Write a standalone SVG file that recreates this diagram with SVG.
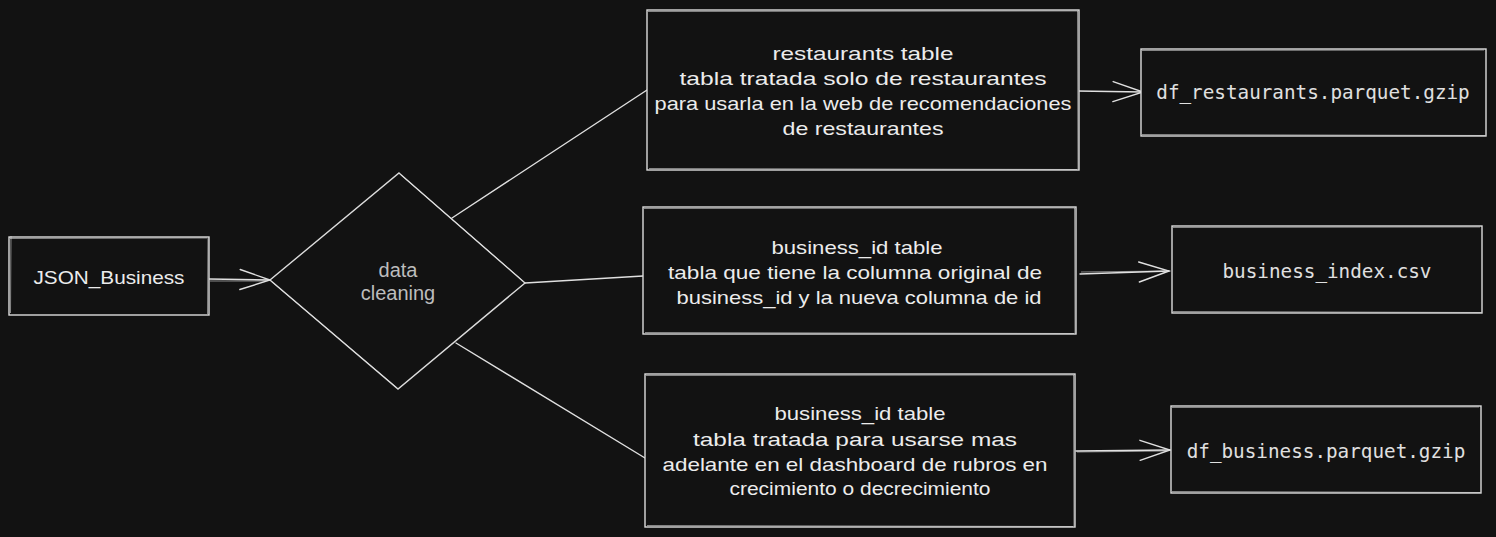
<svg xmlns="http://www.w3.org/2000/svg" width="1496" height="537" viewBox="0 0 1496 537">
<style>
.bg{fill:#121212}
.box{fill:#121212;stroke:#dcdcdc;stroke-width:1.4}
.sk{fill:none;stroke:#e6e6e6;stroke-width:0.8;opacity:0.7}
.hand{font-family:"Liberation Sans","Noto Sans",sans-serif;font-size:19px;fill:#ececec;text-anchor:middle;dominant-baseline:central}
.mono{font-family:"DejaVu Sans Mono","Liberation Mono",monospace;font-size:19.3px;fill:#e0e0e0;text-anchor:middle;dominant-baseline:central}
.lbl{font-family:"Liberation Sans",Arial,sans-serif;font-size:20px;fill:#bdbdbd;text-anchor:middle;dominant-baseline:central}
.ln{fill:none;stroke:#e0e0e0;stroke-width:1.4;stroke-linecap:round}
</style>
<defs>
<marker id="arr" markerUnits="userSpaceOnUse" markerWidth="40" markerHeight="30" viewBox="-34 -15 40 30" refX="0" refY="0" orient="auto" overflow="visible">
<path d="M-30,-10 L0,0 L-30,10" fill="none" stroke="#e0e0e0" stroke-width="1.4" stroke-linecap="round"/>
</marker>
</defs>
<rect class="bg" x="0" y="0" width="1496" height="537"/>

<g id="connectors">
<path class="ln" d="M209,279 L270,280" marker-end="url(#arr)"/>
<path class="sk" d="M210,281 L266,281"/>
<path class="ln" d="M452,218 L647,90"/>
<path class="ln" d="M525,283 L643,276"/>
<path class="ln" d="M456,343 L645,458"/>
<path class="ln" d="M1077,91 L1143,92" marker-end="url(#arr)"/>
<path class="ln" d="M1080,274 L1169,271" marker-end="url(#arr)"/>
<path class="sk" d="M1081,272 L1165,271"/>
<path class="ln" d="M1076,451 L1170,450" marker-end="url(#arr)"/>
<path class="sk" d="M1077,452 L1166,451"/>
</g>

<g id="json-business">
<rect class="box" x="9" y="237" width="200" height="78"/>
<path class="sk" d="M10,238.5 L207,238 M208,238 L207.5,314 M11,236 L10.5,313"/>
<text class="hand" x="109" y="277" textLength="151" lengthAdjust="spacingAndGlyphs">JSON_Business</text>
</g>

<g id="data-cleaning">
<path class="box" d="M399,173 L525,283 L398,389 L270,280 Z"/>
<path class="sk" d="M401,175 L523,281 M396,387 L272,282"/>
<text class="lbl" x="398" y="270">data</text>
<text class="lbl" x="398" y="293">cleaning</text>
</g>

<g id="restaurants-table">
<rect class="box" x="647" y="10" width="432" height="160"/>
<path class="sk" d="M648,11.5 L1078,11 M649,168.5 L1077,169.5 M1077.5,11 L1078,169"/>
<text class="hand" x="863" y="53" textLength="181" lengthAdjust="spacingAndGlyphs">restaurants table</text>
<text class="hand" x="863" y="78" textLength="367" lengthAdjust="spacingAndGlyphs">tabla tratada solo de restaurantes</text>
<text class="hand" x="863" y="103" textLength="417" lengthAdjust="spacingAndGlyphs">para usarla en la web de recomendaciones</text>
<text class="hand" x="863" y="128" textLength="161" lengthAdjust="spacingAndGlyphs">de restaurantes</text>
</g>

<g id="df-restaurants">
<rect class="box" x="1141" y="49" width="345" height="87"/>
<path class="sk" d="M1142,50.5 L1484,50 M1142,134.5 L1485,135.5"/>
<text class="mono" x="1313" y="92">df_restaurants.parquet.gzip</text>
</g>

<g id="business-id-table-1">
<rect class="box" x="643" y="207" width="433" height="127"/>
<path class="sk" d="M644,208.5 L1075,208 M645,332.5 L1074,333.5 M1074.5,208 L1075,333"/>
<text class="hand" x="857" y="247" textLength="171" lengthAdjust="spacingAndGlyphs">business_id table</text>
<text class="hand" x="855" y="272" textLength="374" lengthAdjust="spacingAndGlyphs">tabla que tiene la columna original de</text>
<text class="hand" x="859" y="297" textLength="365" lengthAdjust="spacingAndGlyphs">business_id y la nueva columna de id</text>
</g>

<g id="business-index">
<rect class="box" x="1172" y="226" width="310" height="87"/>
<path class="sk" d="M1173,227.5 L1480,227 M1173,311.5 L1481,312.5"/>
<text class="mono" x="1327" y="271">business_index.csv</text>
</g>

<g id="business-id-table-2">
<rect class="box" x="645" y="374" width="430" height="153"/>
<path class="sk" d="M646,375.5 L1074,375 M647,525.5 L1073,526.5 M1073.5,375 L1074,526"/>
<text class="hand" x="860" y="413" textLength="171" lengthAdjust="spacingAndGlyphs">business_id table</text>
<text class="hand" x="855" y="439" textLength="324" lengthAdjust="spacingAndGlyphs">tabla tratada para usarse mas</text>
<text class="hand" x="855" y="464" textLength="385" lengthAdjust="spacingAndGlyphs">adelante en el dashboard de rubros en</text>
<text class="hand" x="860" y="488" textLength="261" lengthAdjust="spacingAndGlyphs">crecimiento o decrecimiento</text>
</g>

<g id="df-business">
<rect class="box" x="1171" y="406" width="310" height="87"/>
<path class="sk" d="M1172,407.5 L1479,407 M1172,491.5 L1480,492.5"/>
<text class="mono" x="1326" y="451">df_business.parquet.gzip</text>
</g>
</svg>
